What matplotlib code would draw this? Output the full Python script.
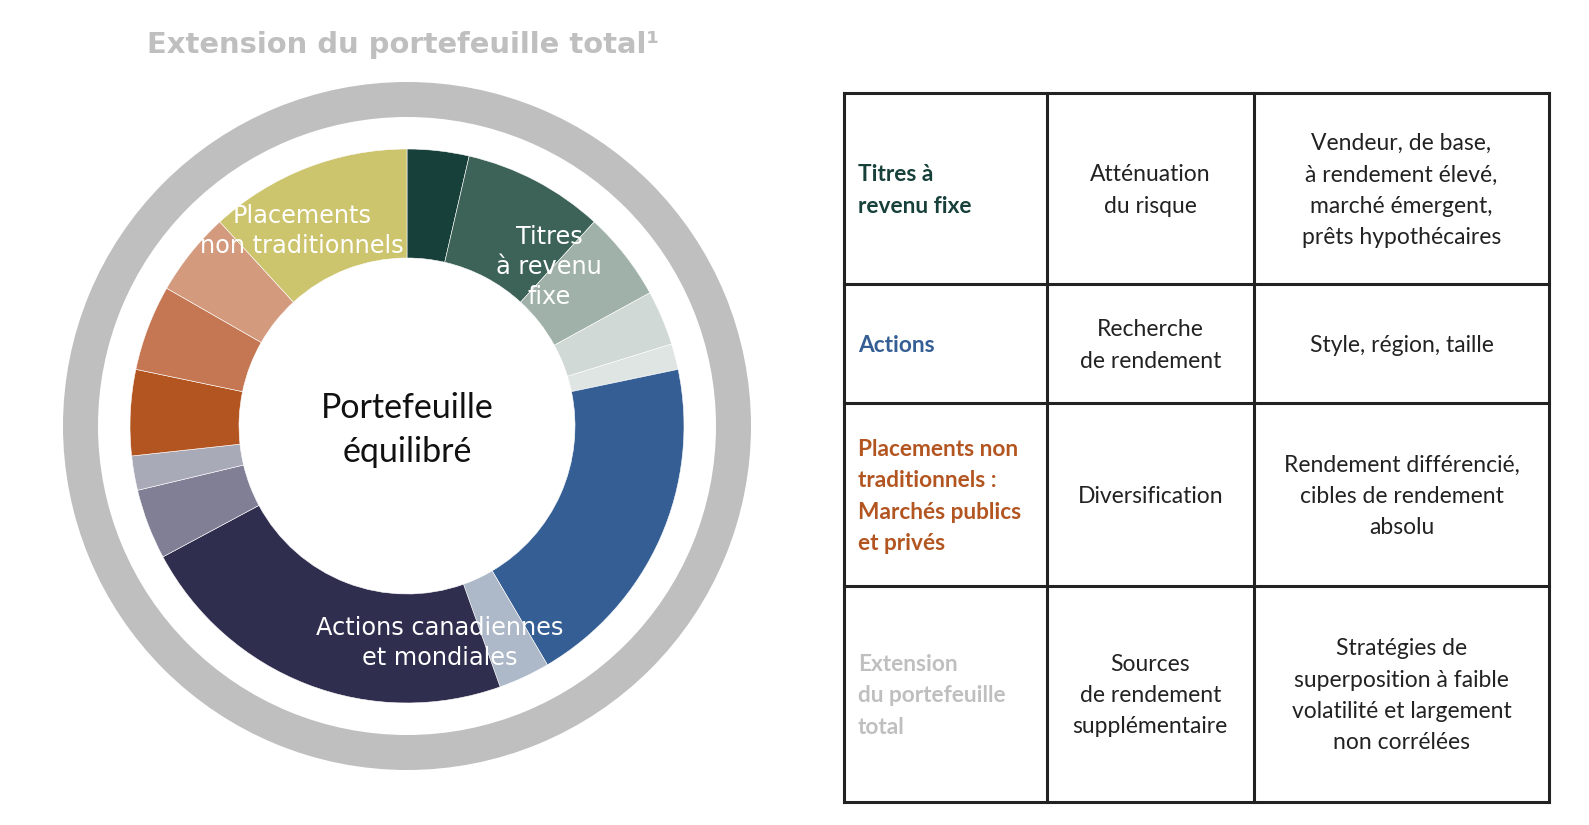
import matplotlib
matplotlib.use("Agg")
import matplotlib.pyplot as plt

# donut slices, clockwise from 12 o'clock (share of the portfolio, %)
slice_values = [3.6, 8.2, 5.2, 3.2, 1.5, 19.8, 3.0, 22.6, 4.1, 2.0, 5.0, 5.0, 4.9, 11.8]
slice_colors = ['#17403a', '#3d6358', '#9fb1a8', '#d0d9d5', '#dfe5e2',
                '#355f94', '#adb8c8', '#302e4e', '#817f96', '#a9aab8',
                '#b35521', '#c47752', '#d49a7e', '#cdc46e']

title = "Extension du portefeuille total\u00b9"
center_label = "Portefeuille\néquilibré"
donut_labels = ["Titres\nà revenu\nfixe", "Placements\nnon traditionnels",
                "Actions canadiennes\net mondiales"]

# table content
row_labels = ["Titres à\nrevenu fixe", "Actions",
              "Placements non\ntraditionnels :\nMarchés publics\net privés",
              "Extension\ndu portefeuille\ntotal"]
row_colors = ['#17403a', '#355f94', '#b35521', '#bfbfbf']
roles = ["Atténuation\ndu risque", "Recherche\nde rendement", "Diversification",
         "Sources\nde rendement\nsupplémentaire"]
details = ["Vendeur, de base,\nà rendement élevé,\nmarché émergent,\nprêts hypothécaires",
           "Style, région, taille",
           "Rendement différencié,\ncibles de rendement\nabsolu",
           "Stratégies de\nsuperposition à faible\nvolatilité et largement\nnon corrélées"]

W, H = 1589, 825
fig = plt.figure(figsize=(W / 100, H / 100), dpi=100)
fig.patch.set_facecolor('white')

# donut axes (square, in pixels)
cx, cy, half = 407, 426, 350
axd = fig.add_axes([(cx - half) / W, (H - cy - half) / H, 2 * half / W, 2 * half / H])
axd.pie([1], radius=344, colors=['#bfbfbf'], startangle=90,
        wedgeprops=dict(width=35, linewidth=0))
axd.pie(slice_values, radius=277, colors=slice_colors, startangle=90, counterclock=False,
        wedgeprops=dict(width=109, edgecolor='white', linewidth=0.4))
axd.set_xlim(-half, half)
axd.set_ylim(-half, half)
axd.set_aspect('equal')
axd.axis('off')

# overlay axes in pixel coordinates (y down)
ax = fig.add_axes([0, 0, 1, 1])
ax.set_xlim(0, W)
ax.set_ylim(H, 0)
ax.axis('off')
ax.patch.set_alpha(0)

narrow = ['Lato', 'DejaVu Sans']

ax.text(403, 45, title, ha='center', va='center', fontsize=20.9, fontweight='bold',
        color='#bfbfbf')
ax.text(407, 430, center_label, ha='center', va='center', fontsize=24.5,
        family=narrow, color='#111111', linespacing=1.45)

label_pos = [(549, 267), (302, 231), (440, 643)]
for txt, (x, y) in zip(donut_labels, label_pos):
    ax.text(x, y, txt, ha='center', va='center', fontsize=17.3, color='white',
            linespacing=1.3)

# table grid
left, right = 844, 1549
col_x = [left, 1046.5, 1254, right]
row_y = [93, 284, 403, 586, 801.5]
for y in row_y:
    ax.plot([left, right], [y, y], color='#222222', lw=2.2, solid_capstyle='projecting')
for x in col_x:
    ax.plot([x, x], [row_y[0], row_y[-1]], color='#222222', lw=2.2,
            solid_capstyle='projecting')

for i in range(4):
    ymid = (row_y[i] + row_y[i + 1]) / 2 + 2
    ax.text(858, ymid, row_labels[i], ha='left', va='center', fontsize=16.3,
            family=narrow, fontweight='bold', color=row_colors[i], linespacing=1.62)
    ax.text((col_x[1] + col_x[2]) / 2, ymid, roles[i], ha='center', va='center',
            fontsize=16.5, family=narrow, color='#222222', linespacing=1.6)
    ax.text((col_x[2] + col_x[3]) / 2, ymid, details[i], ha='center', va='center',
            fontsize=16.5, family=narrow, color='#222222', linespacing=1.6)

fig.savefig('out.png', dpi=100, facecolor='white')
